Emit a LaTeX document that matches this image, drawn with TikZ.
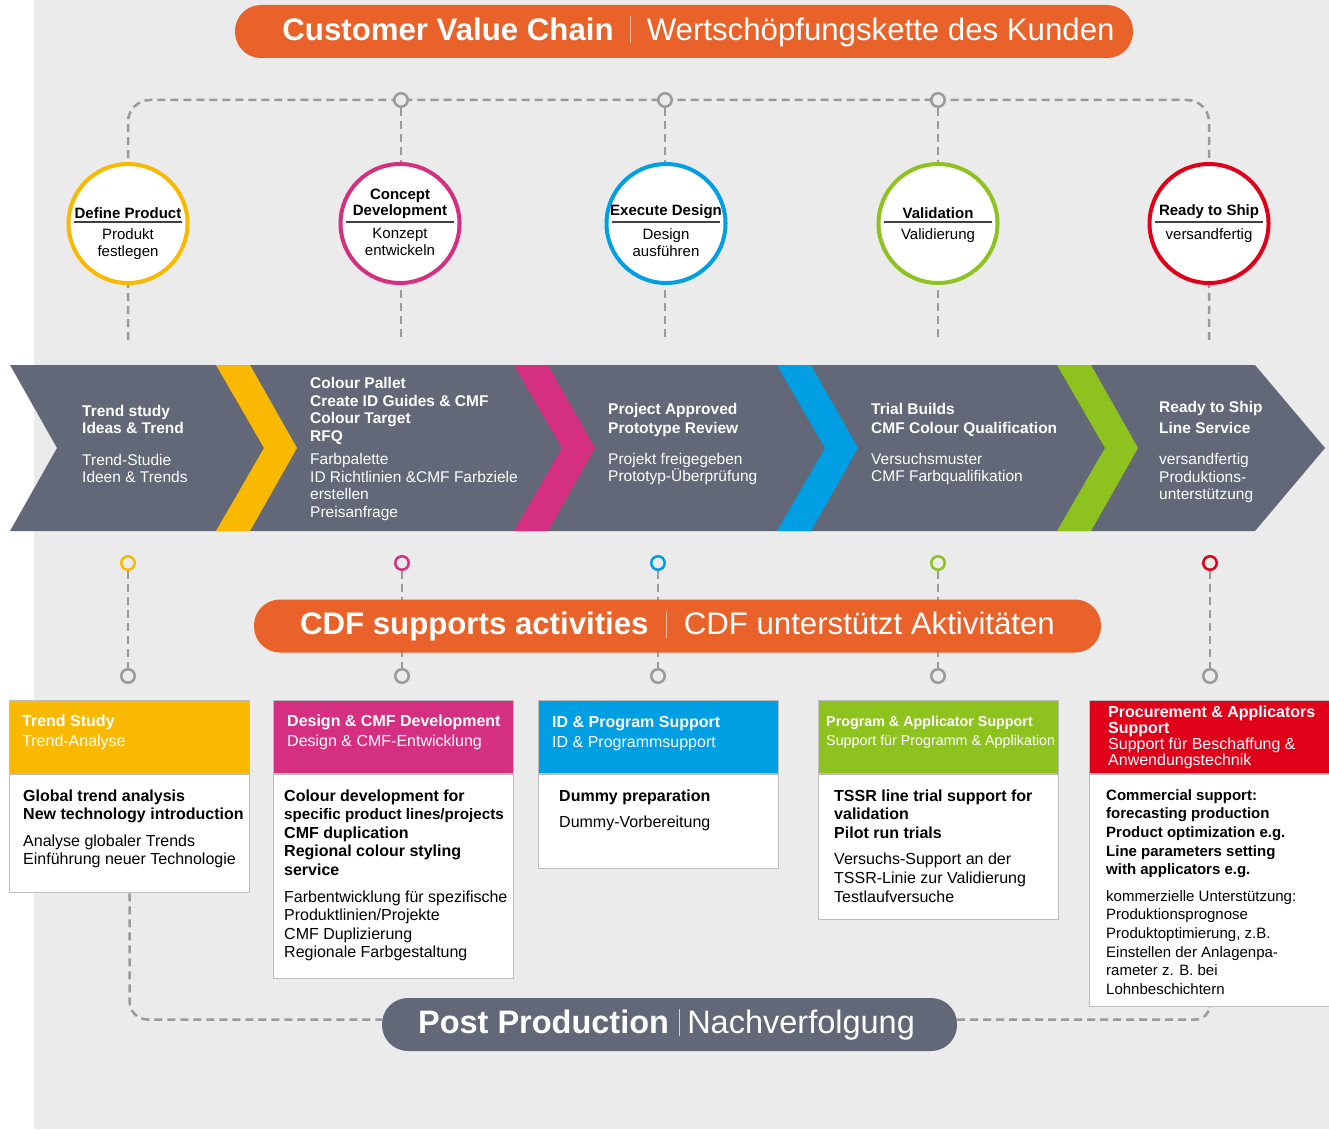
\documentclass[tikz,border=0pt]{standalone}
\usepackage{fontspec}
\setmainfont{Liberation Sans}
\usetikzlibrary{positioning}
\pgfdeclarelayer{back}
\pgfdeclarelayer{lines}
\pgfsetlayers{back,lines,main}

\definecolor{bgc}{HTML}{EBEBEB}
\definecolor{slate}{HTML}{626877}
\definecolor{corange}{HTML}{E9622A}
\definecolor{cyellow}{HTML}{F9B900}
\definecolor{cmagenta}{HTML}{D52F81}
\definecolor{cblue}{HTML}{009FE3}
\definecolor{cgreen}{HTML}{8DC21F}
\definecolor{cred}{HTML}{E1001A}
\definecolor{dashc}{HTML}{9A9A9A}
\definecolor{boxline}{HTML}{BDBDBD}

\newcommand\sepbar[1]{\textcolor{#1}{\rule[-3pt]{1.2pt}{27pt}}}

\tikzset{
	dashline/.style={dashc,line width=2.5pt,dash pattern=on 8pt off 5pt},
	knot/.style={circle,draw=dashc,fill=bgc,line width=2.5pt,minimum size=13.5pt,inner sep=0pt},
	phase/.style={circle,fill=white,line width=4pt,minimum size=119pt,inner sep=0pt},
	phasehead/.style={anchor=south,align=center,inner sep=0pt,font=\fontsize{15}{16}\selectfont\bfseries},
	phasesub/.style={anchor=north,align=center,inner sep=0pt,font=\fontsize{15}{17}\selectfont},
	pill/.style={rounded corners=26pt,minimum height=53pt,text=white,inner sep=0pt,font=\fontsize{31.2}{32}\selectfont},
	chevtext/.style={anchor=west,align=left,text=white,inner sep=0pt,font=\fontsize{15.5}{17.5}\selectfont},
	boxhead/.style={anchor=north west,minimum width=240pt,minimum height=73pt,draw=boxline,line width=1.2pt,inner sep=0pt},
	boxbody/.style={anchor=north west,minimum width=240pt,draw=boxline,fill=white,line width=1.2pt,inner sep=0pt},
	headtext/.style={anchor=west,align=left,text=white,inner sep=0pt,font=\fontsize{16}{20}\selectfont},
	bodytext/.style={anchor=north west,align=left,inner sep=0pt,font=\fontsize{16}{18.6}\selectfont}
}

\begin{document}
\begin{tikzpicture}[x=1pt,y=-1pt]
\useasboundingbox (0,0) rectangle (1329,1129);
\begin{pgfonlayer}{back}
	\fill[bgc] (34,0) rectangle (1329,1129);
\end{pgfonlayer}

% title
\node[pill,fill=corange,minimum width=898pt] (cvc) at (684,31.5)
	{\hspace*{29pt}\textbf{Customer Value Chain}\hspace{16pt}\sepbar{white!55!corange}\hspace{16pt}Wertschöpfungskette des Kunden};

% phases
\coordinate (tm) at (665,100);
\foreach \n/\x in {1/128,2/401,3/665,4/938,5/1209}
	\coordinate (l\n) at (\x,340);
\foreach \n/\x in {2/401,3/665,4/938}
	\node[knot] (tc\n) at (\x,100) {};
\foreach \n/\x/\col/\pname/\pde in {1/128/cyellow/{Define Product}/{Produkt\\festlegen},
		2/400/cmagenta/{Concept\\Development}/{Konzept\\entwickeln},
		3/666/cblue/{Execute Design}/{Design\\ausführen},
		4/938/cgreen/{Validation}/{Validierung},
		5/1209/cred/{Ready to Ship}/{versandfertig}}{
	\node[phase,draw=\col] (ph\n) at (\x,223.5) {};
	\node[phasehead] (phh\n) at (\x,218.5) {\pname};
	\draw[black!75,line width=1.2pt] ({\x-54},222) -- ({\x+54},222);
	\node[phasesub] (phs\n) at (\x,228) {\pde};
}

% chevron band
\fill[slate] (10,365) -- (1255,365) -- (1325,448) -- (1255,531) -- (10,531) -- (57,448) -- cycle;
\foreach \x/\col in {216/cyellow,514/cmagenta,777/cblue,1057/cgreen}
	\fill[\col] (\x,365) -- ({\x+34},365) -- ({\x+81},448) -- ({\x+34},531) -- (\x,531) -- ({\x+48},448) -- cycle;

\node[chevtext] (st1) at (82,444) {\textbf{Trend study}\\\textbf{Ideas \& Trend}\\[14pt]Trend-Studie\\Ideen \& Trends};
\node[chevtext] (st2) at (310,449) {\textbf{Colour Pallet}\\\textbf{Create ID Guides \& CMF}\\\textbf{Colour Target}\\\textbf{RFQ}\\[6pt]Farbpalette\\ID Richtlinien \&CMF Farbziele\\erstellen\\Preisanfrage};
\node[chevtext] (st3) at (608,444) {\textbf{Project Approved}\\[1.5pt]\textbf{Prototype Review}\\[13pt]Projekt freigegeben\\Prototyp-Überprüfung};
\node[chevtext] (st4) at (871,444) {\textbf{Trial Builds}\\[1.5pt]\textbf{CMF Colour Qualification}\\[13pt]Versuchsmuster\\CMF Farbqualifikation};
\node[chevtext] (st5) at (1159,452) {\textbf{Ready to Ship}\\[3.5pt]\textbf{Line Service}\\[14pt]versandfertig\\Produktions-\\unterstützung};

% support row
\foreach \n/\x/\col in {1/128/cyellow,2/402/cmagenta,3/658/cblue,4/938/cgreen,5/1210/cred}{
	\node[knot,draw=\col] (uc\n) at (\x,563) {};
	\node[knot] (lc\n) at (\x,676) {};
}
\node[pill,fill=corange,minimum width=847pt] (cdf) at (677.5,626)
	{\textbf{CDF supports activities}\hspace{17pt}\sepbar{white!55!corange}\hspace{17pt}CDF unterstützt Aktivitäten};

% boxes
\node[boxhead,fill=cyellow] (h1) at (9,700) {};
\node[boxbody,minimum height=118pt] (b1) at (h1.south west) {};
\node[headtext] (ht1) at ([xshift=13pt,yshift=5pt]h1.west) {\textbf{Trend Study}\\Trend-Analyse};
\node[bodytext] (bt1) at ([xshift=14pt,yshift=-15pt]b1.north west)
	{\textbf{Global trend analysis}\\\textbf{New technology introduction}\\[8pt]Analyse globaler Trends\\Einführung neuer Technologie};

\node[boxhead,fill=cmagenta] (h2) at (273,700) {};
\node[boxbody,minimum height=204pt] (b2) at (h2.south west) {};
\node[headtext] (ht2) at ([xshift=14pt,yshift=5pt]h2.west) {\textbf{Design \& CMF Development}\\Design \& CMF-Entwicklung};
\node[bodytext] (bt2) at ([xshift=11pt,yshift=-15pt]b2.north west)
	{\textbf{Colour development for}\\{\fontsize{15.2}{18.6}\selectfont\textbf{specific product lines/projects}}\\\textbf{CMF duplication}\\\textbf{Regional colour styling}\\\textbf{service}\\[8pt]Farbentwicklung für spezifische\\Produktlinien/Projekte\\CMF Duplizierung\\Regionale Farbgestaltung};

\node[boxhead,fill=cblue] (h3) at (538,700) {};
\node[boxbody,minimum height=94pt] (b3) at (h3.south west) {};
\node[headtext] (ht3) at ([xshift=14pt,yshift=4pt]h3.west) {\textbf{ID \& Program Support}\\ID \& Programmsupport};
\node[bodytext] (bt3) at ([xshift=21pt,yshift=-15pt]b3.north west)
	{\textbf{Dummy preparation}\\[8pt]Dummy-Vorbereitung};

\node[boxhead,fill=cgreen] (h4) at (818,700) {};
\node[boxbody,minimum height=145pt] (b4) at (h4.south west) {};
\node[headtext,font=\fontsize{14.3}{19}\selectfont] (ht4) at ([xshift=8pt,yshift=5pt]h4.west) {\textbf{Program \& Applicator Support}\\Support für Programm \& Applikation};
\node[bodytext] (bt4) at ([xshift=16pt,yshift=-15pt]b4.north west)
	{\textbf{TSSR line trial support for}\\\textbf{validation}\\\textbf{Pilot run trials}\\[8pt]Versuchs-Support an der\\TSSR-Linie zur Validierung\\Testlaufversuche};

\node[boxhead,fill=cred] (h5) at (1089,700) {};
\node[boxbody,minimum height=232pt] (b5) at (h5.south west) {};
\node[headtext,font=\fontsize{16}{16}\selectfont] (ht5) at ([xshift=19pt]h5.west) {\textbf{Procurement \& Applicators}\\\textbf{Support}\\Support für Beschaffung \&\\Anwendungstechnik};
\node[bodytext,font=\fontsize{15}{18.6}\selectfont] (bt5) at ([xshift=17pt,yshift=-15pt]b5.north west)
	{\textbf{Commercial support:}\\\textbf{forecasting production}\\\textbf{Product optimization e.g.}\\\textbf{Line parameters setting}\\\textbf{with applicators e.g.}\\[8pt]kommerzielle Unterstützung:\\Produktionsprognose\\Produktoptimierung, z.B.\\Einstellen der Anlagenpa-\\rameter z. B. bei\\Lohnbeschichtern};

% post production
\node[pill,fill=slate,minimum width=575pt,font=\fontsize{32.5}{34}\selectfont] (pp) at (669.5,1024.5)
	{\textbf{Post Production}\hspace{10pt}\sepbar{white!70!slate}\hspace{7pt}Nachverfolgung\hspace*{6pt}};

% dashed connectors
\begin{pgfonlayer}{lines}
	\draw[dashline,rounded corners=22pt] (l1) |- (tm) -| (l5);
	\foreach \n in {2,3,4}
		\draw[dashline] (tc\n) -- (l\n);
	\foreach \n in {1,...,5}
		\draw[dashline] (uc\n) -- (lc\n);
	\draw[dashline,rounded corners=18pt] (b1.south) |- ([yshift=5pt]pp.west);
	\draw[dashline,rounded corners=14pt] ([yshift=5pt]pp.east) -| (b5.south);
\end{pgfonlayer}
\end{tikzpicture}
\end{document}
